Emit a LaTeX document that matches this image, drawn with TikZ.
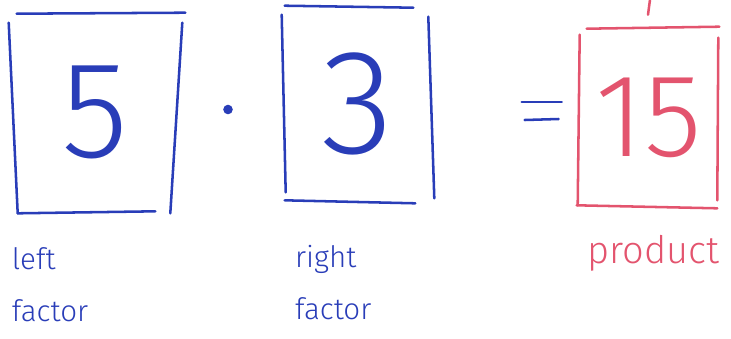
\documentclass[tikz,border=0pt]{standalone}
\usepackage{fontspec}
\setmainfont{Fira Sans}
\IfFontExistsTF{Fira Sans Light}
  {\newfontfamily\penfont{Fira Sans Light}}
  {\newfontfamily\penfont{Fira Sans}}
\definecolor{penblue}{rgb}{.16,.24,.72}
\definecolor{penred}{rgb}{.89,.33,.43}
\usetikzlibrary{positioning,calc}

\begin{document}
\begin{tikzpicture}[x=0.025cm, y=-0.025cm,
            numbox/.style={inner sep=0, font=\penfont\fontsize{98}{98}\selectfont},
            lbl/.style={inner sep=0, align=left, font=\penfont\fontsize{21}{37}\selectfont},
            pen/.style={line width=1.8pt, line cap=round, line join=round}
          ]
  \useasboundingbox (0,0) rectangle (731,338);

  % the two factors and the product
  \node[numbox, penblue, minimum width=4.15cm, minimum height=4.925cm] (five)  at (95,112.5)  {5};
  \node[numbox, penblue, minimum width=3.7cm, minimum height=4.875cm,
        font=\penfont\fontsize{106}{106}\selectfont]                   (three) at (358,103.5) {3};
  \node[numbox, penred, minimum width=3.475cm, minimum height=4.45cm,
        font=\penfont\fontsize{84}{84}\selectfont]                     (prod)  at (648.5,118) {15};

  % labels
  \node[lbl, penblue] (lfac) [below right=0.9cm and 0cm of five.south west]     {left\\factor};
  \node[lbl, penblue] (rfac) [below right=1.1cm and 0.28cm of three.south west] {right\\factor};
  \node[lbl, penred, font=\penfont\fontsize{27}{30}\selectfont]
                      (plab) [below right=0.7cm and 0.22cm of prod.south west]  {product};

  % hand drawn frames
  \begin{scope}[pen, penblue]
    \draw ($(five.north west)+(5,0)$)  -- ($(five.north east)+(7,-1)$);
    \draw ($(five.north west)+(-3,9)$) -- ($(five.south west)+(6,2)$);
    \draw ($(five.north east)+(4,9)$)  -- ($(five.south east)+(-8,2)$);
    \draw ($(five.south west)+(6,2)$)  -- ($(five.south east)+(-23,0)$);

    \draw ($(three.north west)+(1,0)$)  -- ($(three.north east)+(-19,2)$);
    \draw ($(three.north west)+(-2,9)$) -- ($(three.south west)+(2,-9)$);
    \draw ($(three.north east)+(-4,11)$) -- ($(three.south east)+(2,-3)$);
    \draw ($(three.south west)+(1,-1)$) -- ($(three.south east)+(-17,2)$);

    % times dot and equals sign
    \fill ($(five.east)!0.5!(three.west)+(-3,1.5)$) circle (3.4pt);
    \draw ($(prod.west)+(-57,-16)$) -- ($(prod.west)+(-17,-16)$);
    \draw ($(prod.west)+(-54,2)$)   -- ($(prod.west)+(-20,1)$);
  \end{scope}

  \begin{scope}[pen, penred]
    \draw ($(prod.north)+(1.5,-29)$)   -- ($(prod.north)+(-0.5,-14)$);
    \draw ($(prod.north west)+(8,0)$)  -- ($(prod.north east)+(1,-2)$);
    \draw ($(prod.north west)+(1,6)$)  -- ($(prod.south west)+(-1,-2)$);
    \draw ($(prod.north east)+(0,9)$)  -- ($(prod.south east)+(-1,-7)$);
    \draw ($(prod.south west)+(-2,-2)$) -- ($(prod.south east)+(-1,1)$);
  \end{scope}
\end{tikzpicture}
\end{document}
